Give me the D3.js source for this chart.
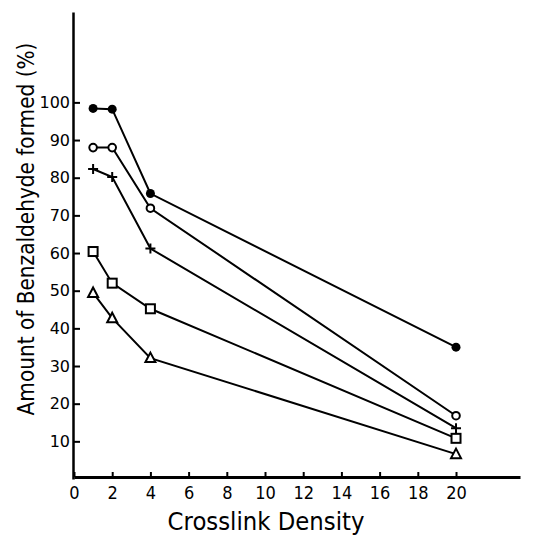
<!DOCTYPE html>
<html><head><meta charset="utf-8">
<script src="https://cdn.jsdelivr.net/npm/d3@7"></script>
<style>body{margin:0;background:#fff}svg{display:block}text{font-family:"DejaVu Sans",sans-serif;fill:#000}</style>
</head><body>
<script>
const xValues = [1, 2, 4, 20];
const filledCircle = [98.4, 98.2, 75.8, 35.0];
const openCircle = [88.0, 88.0, 71.9, 16.8];
const plusSeries = [82.3, 80.2, 61.2, 13.5];
const squareSeries = [60.4, 52.0, 45.2, 10.8];
const triangleSeries = [49.4, 42.7, 32.1, 6.6];
const xTicks = [0, 2, 4, 6, 8, 10, 12, 14, 16, 18, 20];
const yTicks = [10, 20, 30, 40, 50, 60, 70, 80, 90, 100];
const xTitle = "Crosslink Density";
const yTitle = "Amount of Benzaldehyde formed (%)";

const W = 538, H = 536;
const svg = d3.select("body").append("svg").attr("width", W).attr("height", H);
const x = d3.scaleLinear().domain([0, 23.35]).range([74, 520]);
const y = d3.scaleLinear().domain([0, 124]).range([479, 12]);

const xAxis = svg.append("g").attr("transform", "translate(0,477)")
  .call(d3.axisBottom(x).tickValues(xTicks).tickFormat(d3.format("d")).tickSizeInner(-5).tickSizeOuter(0).tickPadding(9));
xAxis.select(".domain").attr("stroke-width", 3);
xAxis.selectAll(".tick line").attr("stroke-width", 2);
xAxis.selectAll("text").attr("font-size", 18).style("font-family", "'DejaVu Sans Condensed','DejaVu Sans',sans-serif");

const yAxis = svg.append("g").attr("transform", "translate(73,0)")
  .call(d3.axisLeft(y).tickValues(yTicks).tickFormat(d3.format("d")).tickSizeInner(-7).tickSizeOuter(0).tickPadding(3));
yAxis.select(".domain").attr("stroke-width", 2.5);
yAxis.selectAll(".tick line").attr("stroke-width", 2);
yAxis.selectAll("text").attr("font-size", 16);

function fitted(tf, size, target, str) {
  const t = svg.append("text").attr("text-anchor", "middle").attr("font-size", size).text(str);
  const len = t.node().getComputedTextLength();
  t.attr("transform", tf + ` scale(${target / len},1)`);
  return t;
}
fitted("translate(266,530)", 24, 197, xTitle);
fitted("translate(34,229) rotate(-90)", 23, 373, yTitle);

const series = [
  {vals: filledCircle, m: "fcircle"},
  {vals: openCircle, m: "ocircle"},
  {vals: plusSeries, m: "plus"},
  {vals: squareSeries, m: "square"},
  {vals: triangleSeries, m: "triangle"}
];
const line = d3.line().x(d => x(d[0])).y(d => y(d[1]));
series.forEach(s => {
  const pts = xValues.map((xv, i) => [xv, s.vals[i]]);
  svg.append("path").attr("d", line(pts)).attr("fill", "none").attr("stroke", "#000").attr("stroke-width", 2);
  const g = svg.append("g");
  pts.forEach(p => {
    const cx = x(p[0]), cy = y(p[1]);
    if (s.m === "fcircle") g.append("circle").attr("cx", cx).attr("cy", cy).attr("r", 4.5).attr("fill", "#000");
    else if (s.m === "ocircle") g.append("circle").attr("cx", cx).attr("cy", cy).attr("r", 3.8).attr("fill", "#fff").attr("stroke", "#000").attr("stroke-width", 2);
    else if (s.m === "plus") g.append("path").attr("d", `M${cx-5},${cy}H${cx+5}M${cx},${cy-5}V${cy+5}`).attr("stroke", "#000").attr("stroke-width", 2);
    else if (s.m === "square") g.append("rect").attr("x", cx-4.5).attr("y", cy-4.5).attr("width", 9).attr("height", 9).attr("fill", "#fff").attr("stroke", "#000").attr("stroke-width", 2);
    else if (s.m === "triangle") g.append("path").attr("d", `M${cx},${cy-5.5}L${cx+5},${cy+4}L${cx-5},${cy+4}Z`).attr("fill", "#fff").attr("stroke", "#000").attr("stroke-width", 2);
  });
});
</script>
</body></html>
